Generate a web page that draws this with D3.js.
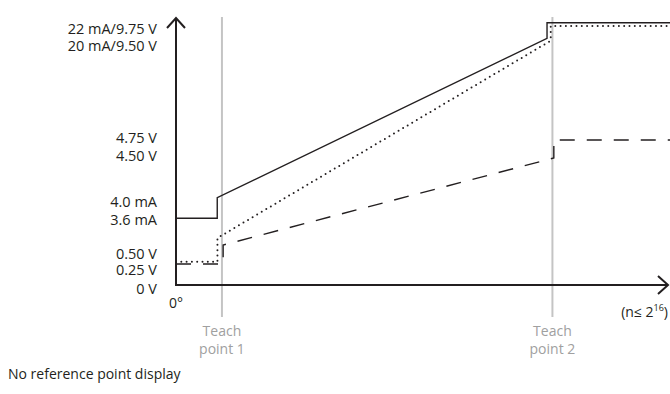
<!DOCTYPE html>
<html lang="en">
<head>
    <meta charset="UTF-8">
    <title>Teach-in output characteristic</title>
    <script src="https://d3js.org/d3.v7.min.js"></script>
    <style>
        body {
            margin: 0;
            background: #ffffff;
            font-family: "Open Sans", Arial, sans-serif;
        }
        svg {
            display: block;
        }
        .tick-label {
            font-size: 14.5px;
            fill: #231f20;
            text-anchor: end;
            dominant-baseline: middle;
        }
        .teach-label {
            font-size: 14px;
            fill: #a0a0a0;
            text-anchor: middle;
        }
        .axis-line {
            stroke: #231f20;
            stroke-width: 2;
            fill: none;
        }
        .teach-line {
            stroke: #c4c4c4;
            stroke-width: 2;
        }
        .series {
            fill: none;
            stroke: #231f20;
        }
    </style>
</head>
<body>
<svg id="chart"></svg>
<script>
    const width = 670;
    const height = 394;

    // x positions (arbitrary teach-in units, 0 .. 100 on the x axis)
    const teachPoints = [9.3, 76.2];
    const teachNames = [["Teach", "point 1"], ["Teach", "point 2"]];
    const xEnd = 100;

    // y axis labels, bottom to top
    const tickLabels = ["0 V", "0.25 V", "0.50 V", "3.6 mA", "4.0 mA", "4.50 V", "4.75 V", "20 mA/9.50 V", "22 mA/9.75 V"];

    // current output 4..20 mA (solid)
    const currentLevels = [3.6, 4.0, 20, 22];
    // voltage output 0..10 V (dotted)
    const volt10Levels = [0.25, 0.5, 9.5, 9.75];
    // voltage output 0..5 V (dashed)
    const volt5Levels = [0.25, 0.5, 4.5, 4.75];

    const svg = d3.select("#chart")
        .attr("width", width)
        .attr("height", height);

    const x = d3.scaleLinear().domain([0, xEnd]).range([176, 670]);

    // schematic (non-proportional) vertical scales
    const yCurrent = d3.scaleLinear().domain(currentLevels).range([218.3, 197.7, 38.3, 22.7]);
    const y10 = d3.scaleLinear().domain(volt10Levels).range([261.7, 238, 40.7, 26]);
    const y5 = d3.scaleLinear().domain(volt5Levels).range([264, 245, 158, 140]);
    const yLabel = d3.scaleOrdinal().domain(tickLabels).range([290, 271, 255, 221.3, 203.5, 157, 139.5, 47, 30]);

    const axisY0 = 285;
    const axisX0 = x(0);

    // step profile: low level until teach 1, ramp to teach 2, then high level
    function profile(levels) {
        return [
            { x: 0, v: levels[0] },
            { x: teachPoints[0], v: levels[0] },
            { x: teachPoints[0], v: levels[1] },
            { x: teachPoints[1], v: levels[2] },
            { x: teachPoints[1], v: levels[3] },
            { x: xEnd, v: levels[3] }
        ];
    }

    const series = [
        { data: profile(currentLevels), y: yCurrent, dx: [-4.7, -5.4], width: 1.4, dash: null, cap: "butt" },
        { data: profile(volt10Levels), y: y10, dx: [-4.5, -1.7], width: 2, dash: "0,5.3", cap: "round" },
        { data: profile(volt5Levels), y: y5, dx: [1.2, 1.4], width: 1.4, dash: "15,12", cap: "butt" }
    ];

    // teach point verticals
    svg.selectAll(".teach-line")
        .data(teachPoints)
        .enter().append("line")
        .attr("class", "teach-line")
        .attr("x1", d => x(d))
        .attr("x2", d => x(d))
        .attr("y1", 17)
        .attr("y2", 317);

    // teach labels
    teachPoints.forEach((t, i) => {
        const g = svg.append("text")
            .attr("class", "teach-label")
            .attr("x", x(t))
            .attr("y", 336);
        g.append("tspan").attr("x", x(t)).text(teachNames[i][0]);
        g.append("tspan").attr("x", x(t)).attr("dy", 18).text(teachNames[i][1]);
    });

    // series lines
    series.forEach(s => {
        const line = d3.line()
            .x(d => {
                const px = x(d.x);
                if (d.x === teachPoints[0]) return px + s.dx[0];
                if (d.x === teachPoints[1]) return px + s.dx[1];
                return px;
            })
            .y(d => s.y(d.v));
        svg.append("path")
            .datum(s.data)
            .attr("class", "series")
            .attr("d", line)
            .attr("stroke-width", s.width)
            .attr("stroke-linecap", s.cap)
            .attr("stroke-dasharray", s.dash);
    });

    // axes
    svg.append("path")
        .attr("class", "axis-line")
        .attr("d", `M${axisX0},18 V${axisY0} H668`);
    svg.append("path")
        .attr("class", "axis-line")
        .attr("d", `M${axisX0 - 9},28 L${axisX0},18 L${axisX0 + 9},28`);
    svg.append("path")
        .attr("class", "axis-line")
        .attr("d", `M658,${axisY0 - 9} L668,${axisY0} L658,${axisY0 + 9}`);

    // y tick labels
    svg.selectAll(".tick-label")
        .data(tickLabels)
        .enter().append("text")
        .attr("class", "tick-label")
        .attr("x", 157)
        .attr("y", d => yLabel(d))
        .text(d => d);

    // origin and x-axis note
    svg.append("text")
        .attr("x", axisX0)
        .attr("y", 308)
        .attr("text-anchor", "middle")
        .style("font-size", "14px")
        .style("fill", "#231f20")
        .text("0°");

    const nText = svg.append("text")
        .attr("x", 668)
        .attr("y", 317)
        .attr("text-anchor", "end")
        .style("font-size", "14px")
        .style("fill", "#231f20");
    nText.append("tspan").text("(n≤ 2");
    nText.append("tspan").attr("dy", -6).style("font-size", "9px").text("16");
    nText.append("tspan").attr("dy", 6).text(")");

    svg.append("text")
        .attr("x", 8)
        .attr("y", 379)
        .style("font-size", "14px")
        .style("fill", "#231f20")
        .text("No reference point  display");
</script>
</body>
</html>
